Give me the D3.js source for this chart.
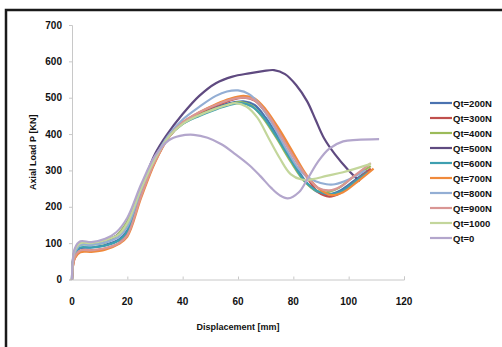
<!DOCTYPE html>
<html>
<head>
<meta charset="utf-8">
<script src="https://cdn.jsdelivr.net/npm/d3@7"></script>
<style>
  body { margin: 0; background: #fff; }
  svg text { font-family: "Liberation Sans", Arial, sans-serif; font-weight: bold; fill: #111; }
</style>
</head>
<body>
<div id="chart"></div>
<script>
// series names and colours (Excel 2007 style)
const seriesNames = ["Qt=200N", "Qt=300N", "Qt=400N", "Qt=500N", "Qt=600N",
  "Qt=700N", "Qt=800N", "Qt=900N", "Qt=1000", "Qt=0"];
const seriesColors = ["#4a72b0", "#c0504d", "#9bbb59", "#5f4a80", "#3e9fb0",
  "#f08a3c", "#93aed4", "#d99694", "#c3d69b", "#b3a6cc"];

// displacement [mm] and axial load [kN]
const q200x = [0, 1, 3, 7, 12, 17, 20, 25, 30, 35, 40, 46, 52, 57, 62, 66, 70, 75, 80, 85, 89, 93, 97, 102, 107];
const q200y = [0, 70, 86, 88, 95, 110, 135, 240, 330, 395, 430, 455, 474, 485, 490, 480, 445, 385, 320, 265, 240, 235, 245, 272, 300];

const q300x = [0, 1, 3, 7, 12, 17, 20, 25, 30, 35, 40, 46, 52, 57, 62, 66, 70, 75, 80, 85, 89, 93, 97, 102, 108];
const q300y = [0, 60, 78, 80, 85, 100, 125, 232, 325, 392, 430, 458, 478, 492, 500, 492, 460, 405, 340, 280, 240, 228, 238, 268, 305];

const q400x = [0, 1, 3, 7, 12, 16, 20, 25, 30, 35, 40, 46, 52, 57, 61, 65, 69, 74, 79, 84, 88, 92, 96, 101, 108];
const q400y = [0, 75, 95, 96, 102, 120, 160, 250, 330, 393, 428, 452, 470, 482, 488, 478, 445, 388, 325, 270, 245, 240, 250, 278, 312];

const q500x = [0, 1, 3, 7, 12, 17, 20, 25, 30, 34, 40, 46, 52, 58, 64, 69, 73, 77, 81, 85, 88, 91, 95, 100, 104];
const q500y = [0, 80, 100, 100, 108, 125, 150, 250, 345, 395, 455, 505, 540, 558, 567, 573, 576, 565, 535, 490, 440, 390, 345, 300, 270];

const q600x = [0, 1, 3, 7, 12, 17, 20, 25, 30, 35, 40, 46, 52, 57, 61, 65, 69, 74, 79, 84, 89, 94, 98, 102, 107];
const q600y = [0, 72, 88, 88, 93, 108, 132, 238, 328, 393, 428, 450, 468, 480, 485, 476, 448, 392, 330, 272, 242, 235, 245, 268, 295];

const q700x = [0, 1, 3, 7, 12, 17, 20, 25, 30, 35, 40, 46, 52, 57, 62, 66, 70, 75, 80, 85, 90, 94, 98, 103, 109];
const q700y = [0, 58, 75, 76, 82, 98, 118, 225, 322, 392, 432, 460, 482, 497, 505, 498, 468, 412, 348, 285, 245, 232, 240, 268, 305];

const q800x = [0, 1, 3, 7, 12, 17, 20, 25, 30, 35, 40, 46, 52, 56, 60, 64, 68, 73, 78, 83, 88, 92, 95, 100, 106];
const q800y = [0, 72, 95, 95, 102, 118, 145, 245, 335, 398, 440, 475, 505, 517, 520, 510, 480, 420, 352, 295, 270, 262, 262, 275, 300];

const q900x = [0, 1, 3, 7, 12, 17, 20, 25, 30, 35, 40, 46, 52, 57, 62, 66, 70, 75, 80, 85, 89, 93, 97, 102, 108];
const q900y = [0, 62, 80, 80, 86, 100, 122, 230, 325, 392, 432, 460, 480, 494, 500, 493, 462, 402, 338, 282, 252, 245, 255, 285, 320];

const q1000x = [0, 1, 3, 7, 12, 17, 20, 25, 30, 35, 40, 46, 52, 56, 59, 63, 67, 71, 75, 79, 83, 87, 92, 98, 108];
const q1000y = [0, 80, 100, 100, 108, 125, 155, 250, 332, 393, 428, 452, 470, 480, 485, 476, 445, 390, 335, 290, 275, 276, 285, 295, 318];

const q0x = [0, 1, 3, 7, 12, 16, 20, 25, 30, 35, 39, 44, 49, 54, 59, 64, 68, 72, 75, 78, 82, 85, 89, 93, 98, 103, 111];
const q0y = [0, 85, 105, 103, 112, 130, 170, 262, 340, 383, 395, 398, 390, 372, 345, 315, 285, 252, 232, 223, 240, 275, 325, 360, 380, 384, 386];

const xTicks = [0, 20, 40, 60, 80, 100, 120];
const yTicks = [0, 100, 200, 300, 400, 500, 600, 700];

const seriesData = [
  [q200x, q200y], [q300x, q300y], [q400x, q400y], [q500x, q500y], [q600x, q600y],
  [q700x, q700y], [q800x, q800y], [q900x, q900y], [q1000x, q1000y], [q0x, q0y]
];

const width = 502, height = 347;
const plot = { left: 72, right: 404, top: 25, bottom: 279.5 };

const svg = d3.select("#chart").append("svg")
  .attr("width", width)
  .attr("height", height);

// outer frame (only top and left visible in the picture)
svg.append("rect")
  .attr("x", 6).attr("y", 10)
  .attr("width", 600).attr("height", 400)
  .attr("fill", "none")
  .attr("stroke", "#1a1a1a")
  .attr("stroke-width", 2.5);

const x = d3.scaleLinear().domain([0, 120]).range([plot.left, plot.right]);
const y = d3.scaleLinear().domain([0, 700]).range([plot.bottom, plot.top]);

// x axis
const xAxis = svg.append("g")
  .attr("transform", `translate(0,${plot.bottom})`)
  .call(d3.axisTop(x).tickValues(xTicks).tickSize(3).tickFormat(""));
xAxis.select(".domain").attr("stroke", "#c8c8c8");
xAxis.selectAll(".tick line").attr("stroke", "#c8c8c8");

svg.selectAll(".xlab")
  .data(xTicks)
  .enter().append("text")
  .attr("class", "xlab")
  .attr("x", d => x(d))
  .attr("y", plot.bottom + 25)
  .attr("text-anchor", "middle")
  .attr("font-size", 10)
  .text(d => d);

// y axis
const yAxis = svg.append("g")
  .attr("transform", `translate(${plot.left},0)`)
  .call(d3.axisLeft(y).tickValues(yTicks).tickSize(3).tickFormat(""));
yAxis.select(".domain").attr("stroke", "#c8c8c8");
yAxis.selectAll(".tick line").attr("stroke", "#c8c8c8");

svg.selectAll(".ylab")
  .data(yTicks)
  .enter().append("text")
  .attr("class", "ylab")
  .attr("x", 62)
  .attr("y", d => y(d) + 3.5)
  .attr("text-anchor", "end")
  .attr("font-size", 10)
  .text(d => d);

// axis titles
svg.append("text")
  .attr("x", 238)
  .attr("y", 330)
  .attr("text-anchor", "middle")
  .attr("font-size", 9)
  .text("Displacement [mm]");

svg.append("text")
  .attr("transform", `translate(36,${(plot.top + plot.bottom) / 2}) rotate(-90)`)
  .attr("text-anchor", "middle")
  .attr("font-size", 9)
  .text("Axial Load P [KN]");

// lines
const line = d3.line()
  .x(d => x(d[0]))
  .y(d => y(d[1]))
  .curve(d3.curveCatmullRom.alpha(0.5));

seriesData.forEach((s, i) => {
  const pts = s[0].map((v, j) => [v, s[1][j]]);
  svg.append("path")
    .attr("d", line(pts))
    .attr("fill", "none")
    .attr("stroke", seriesColors[i])
    .attr("stroke-width", 2.2)
    .attr("stroke-linejoin", "round");
});

// legend
const legend = svg.append("g");
seriesNames.forEach((name, i) => {
  const ly = 103 + i * 15;
  legend.append("line")
    .attr("x1", 430).attr("x2", 452)
    .attr("y1", ly).attr("y2", ly)
    .attr("stroke", seriesColors[i])
    .attr("stroke-width", 2.2);
  legend.append("text")
    .attr("x", 453)
    .attr("y", ly + 3.5)
    .attr("font-size", 9.5)
    .text(name);
});
</script>
</body>
</html>
